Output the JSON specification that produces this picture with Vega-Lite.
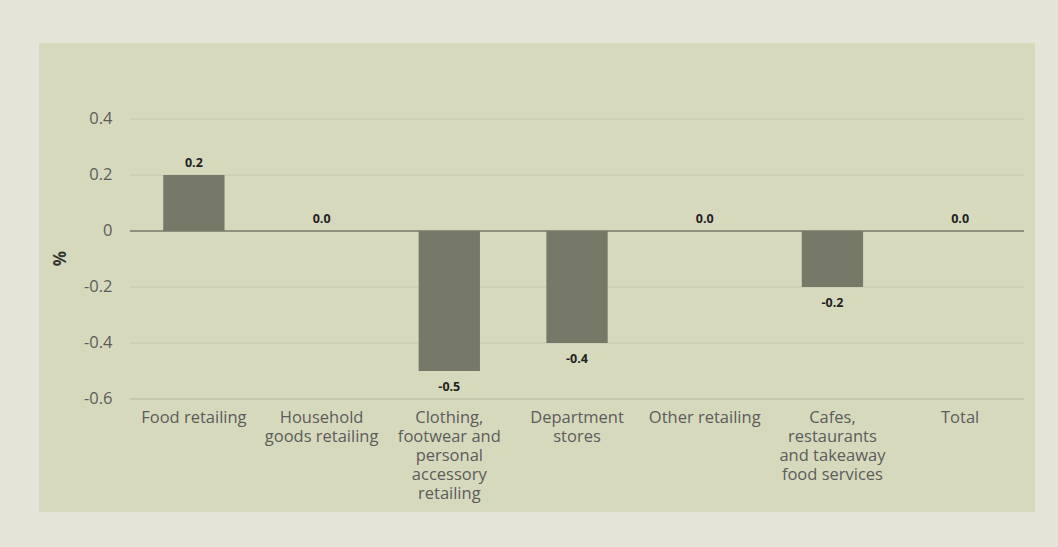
{
  "$schema": "https://vega.github.io/schema/vega-lite/v6.json",
  "width": 996,
  "height": 469,
  "autosize": {"type": "none"},
  "padding": {"left": 39, "top": 43, "right": 23, "bottom": 35},
  "background": "#e4e4d8",
  "config": {
    "locale": {"number": {"decimal": ".", "thousands": ",", "grouping": [3], "currency": ["$", ""], "minus": "-"}},
    "view": {"fill": "#d7d9bd", "stroke": null},
    "font": "Open Sans"
  },
  "datasets": {
    "sales": [
      {"category": "Food retailing", "value": 0.2},
      {"category": "Household goods retailing", "value": 0.0},
      {"category": "Clothing, footwear and personal accessory retailing", "value": -0.5},
      {"category": "Department stores", "value": -0.4},
      {"category": "Other retailing", "value": 0.0},
      {"category": "Cafes, restaurants and takeaway food services", "value": -0.2},
      {"category": "Total", "value": 0.0}
    ],
    "grid": [
      {"value": -0.6}, {"value": -0.4}, {"value": -0.2}, {"value": 0.2}, {"value": 0.4}
    ]
  },
  "layer": [
    {
      "layer": [
        {
          "data": {"name": "grid"},
          "mark": {"type": "rule", "color": "#c6c8ad"},
          "encoding": {
            "y": {"field": "value", "type": "quantitative", "scale": {"domain": [-1.0036, 0.6714], "nice": false, "zero": false}},
            "x": {"datum": 0, "type": "quantitative", "scale": {"domain": [-0.7125, 7.0862], "nice": false, "zero": false}, "axis": null},
            "x2": {"datum": 7},
            "strokeWidth": {"condition": {"test": "datum.value < -0.5", "value": 2}, "value": 1}
          }
        },
        {
          "data": {"values": [{}]},
          "mark": {"type": "rule", "color": "#8e8f7d", "strokeWidth": 2},
          "encoding": {
            "y": {"datum": 0, "type": "quantitative"},
            "x": {"datum": 0, "type": "quantitative"},
            "x2": {"datum": 7}
          }
        }
      ]
    },
    {
      "data": {"name": "sales"},
      "layer": [
        {
          "mark": {"type": "bar", "color": "#767868"},
          "encoding": {
            "x": {
              "field": "category", "type": "nominal", "sort": null,
              "scale": {"paddingInner": 0.52, "paddingOuter": 0.6595, "align": 0.7375, "round": false},
              "axis": {
                "orient": "bottom",
                "title": null, "offset": -113, "labelPadding": 10, "ticks": false, "domain": false,
                "labelAngle": 0, "labelFontSize": 16.5, "labelColor": "#5c5c5c", "labelLineHeight": 19,
                "labelBaseline": "top", "labelLimit": 0, "labelOverlap": false, "labelFont": "Open Sans",
                "labelExpr": "{'Household goods retailing':['Household','goods retailing'],'Clothing, footwear and personal accessory retailing':['Clothing,','footwear and','personal','accessory','retailing'],'Department stores':['Department','stores'],'Cafes, restaurants and takeaway food services':['Cafes,','restaurants','and takeaway','food services']}[datum.label] || datum.label"
              }
            },
            "y": {
              "field": "value", "type": "quantitative", "stack": null, "title": "%",
              "scale": {"domain": [-1.0036, 0.6714], "nice": false, "zero": false},
              "axis": {
                "orient": "left",
                "values": [-0.6, -0.4, -0.2, 0, 0.2, 0.4], "format": ".1~f", "offset": -91,
                "labelPadding": 18, "ticks": false, "domain": false, "grid": false,
                "labelFontSize": 16.5, "labelColor": "#5c5c5c", "labelFont": "Open Sans",
                "titleFontSize": 17, "titleFontWeight": "bold", "titleColor": "#333333",
                "titlePadding": 14, "titleY": 215, "titleFont": "Open Sans"
              }
            },
            "y2": {"datum": 0}
          }
        },
        {
          "transform": [{"filter": "datum.value >= 0"}],
          "mark": {"type": "text", "fontWeight": "bold", "fontSize": 12.5, "color": "#222222", "baseline": "middle", "dy": -12},
          "encoding": {
            "x": {"field": "category", "type": "nominal", "sort": null},
            "y": {"field": "value", "type": "quantitative"},
            "text": {"field": "value", "type": "quantitative", "format": ".1f"}
          }
        },
        {
          "transform": [{"filter": "datum.value < 0"}],
          "mark": {"type": "text", "fontWeight": "bold", "fontSize": 12.5, "color": "#222222", "baseline": "middle", "dy": 16},
          "encoding": {
            "x": {"field": "category", "type": "nominal", "sort": null},
            "y": {"field": "value", "type": "quantitative"},
            "text": {"field": "value", "type": "quantitative", "format": ".1f"}
          }
        }
      ]
    }
  ],
  "resolve": {"scale": {"x": "independent"}, "axis": {"x": "independent"}}
}
